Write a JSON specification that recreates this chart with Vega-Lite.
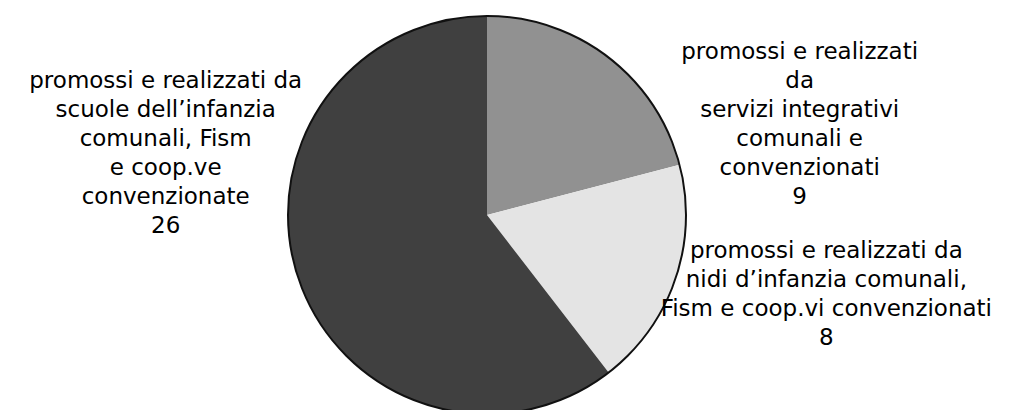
{
  "$schema": "https://vega.github.io/schema/vega-lite/v6.json",
  "autosize": "none",
  "width": 974,
  "height": 390,
  "padding": {"left": 0, "top": 20, "right": 35, "bottom": 0},
  "background": "white",
  "config": {"view": {"stroke": null}, "text": {"font": "DejaVu Sans"}},
  "data": {
    "values": [
      {"ordine": 1, "servizio": "servizi integrativi", "categoria": "promossi e realizzati\nda\nservizi integrativi\ncomunali e\nconvenzionati", "valore": 9},
      {"ordine": 2, "servizio": "nidi d’infanzia", "categoria": "promossi e realizzati da\nnidi d’infanzia comunali,\nFism e coop.vi convenzionati", "valore": 8},
      {"ordine": 3, "servizio": "scuole dell’infanzia", "categoria": "promossi e realizzati da\nscuole dell’infanzia\ncomunali, Fism\ne coop.ve\nconvenzionate", "valore": 26}
    ]
  },
  "transform": [
    {"calculate": "datum.categoria + '\\n' + datum.valore", "as": "etichetta"}
  ],
  "layer": [
    {
      "mark": {"type": "arc", "outerRadius": 199},
      "encoding": {
        "theta": {"field": "valore", "type": "quantitative", "stack": true},
        "order": {"field": "ordine", "type": "quantitative"},
        "color": {
          "field": "servizio",
          "type": "nominal",
          "scale": {
            "domain": ["servizi integrativi", "nidi d’infanzia", "scuole dell’infanzia"],
            "range": ["#919191", "#e4e4e4", "#404040"]
          },
          "legend": null
        }
      }
    },
    {
      "transform": [{"aggregate": [{"op": "sum", "field": "valore", "as": "totale"}]}],
      "mark": {"type": "arc", "outerRadius": 199, "fill": null, "stroke": "#111111", "strokeWidth": 2},
      "encoding": {
        "theta": {"field": "totale", "type": "quantitative", "stack": true}
      }
    },
    {
      "mark": {"type": "text", "radius": 330, "dx": 111, "dy": 98, "lineBreak": "\n", "lineHeight": 29, "fontSize": 23, "align": "center", "baseline": "middle", "color": "#000000"},
      "encoding": {
        "theta": {"field": "valore", "type": "quantitative", "stack": true},
        "order": {"field": "ordine", "type": "quantitative"},
        "text": {"condition": {"test": "datum.ordine === 1", "field": "etichetta", "type": "nominal"}, "value": ""}
      }
    },
    {
      "mark": {"type": "text", "radius": 330, "dx": 27, "dy": -71, "lineBreak": "\n", "lineHeight": 29, "fontSize": 23, "align": "center", "baseline": "middle", "color": "#000000"},
      "encoding": {
        "theta": {"field": "valore", "type": "quantitative", "stack": true},
        "order": {"field": "ordine", "type": "quantitative"},
        "text": {"condition": {"test": "datum.ordine === 2", "field": "etichetta", "type": "nominal"}, "value": ""}
      }
    },
    {
      "mark": {"type": "text", "radius": 330, "dx": -9, "dy": -241, "lineBreak": "\n", "lineHeight": 29, "fontSize": 23, "align": "center", "baseline": "middle", "color": "#000000"},
      "encoding": {
        "theta": {"field": "valore", "type": "quantitative", "stack": true},
        "order": {"field": "ordine", "type": "quantitative"},
        "text": {"condition": {"test": "datum.ordine === 3", "field": "etichetta", "type": "nominal"}, "value": ""}
      }
    }
  ]
}
